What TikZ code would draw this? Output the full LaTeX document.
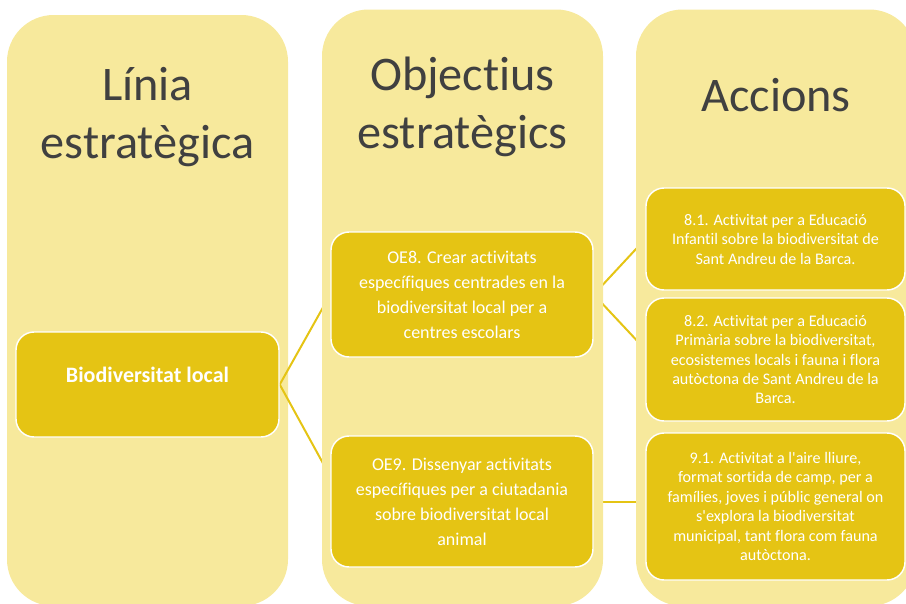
\documentclass[tikz,border=0pt]{standalone}
\usepackage{fontspec}
\setmainfont{Carlito}[Ligatures=NoCommon]

\definecolor{colfill}{HTML}{F7E99C}
\definecolor{boxfill}{HTML}{E5C414}
\definecolor{headgray}{HTML}{404040}

\pgfdeclarelayer{colone}
\pgfdeclarelayer{links}
\pgfdeclarelayer{cols}
\pgfsetlayers{colone,links,cols,main}

\tikzset{
  column/.style={fill=colfill, rounded corners=35pt},
  heading/.style={text=headgray, align=center, font=\fontsize{36.2}{43}\selectfont},
  levelbox/.style={draw=white, line width=1.1pt, fill=boxfill, rounded corners=13.5pt,
    text=white, align=center, inner sep=0pt},
  linebox/.style={levelbox, font=\fontsize{16.5}{20}\selectfont\bfseries, minimum width=197.25pt},
  objbox/.style={levelbox, font=\fontsize{13.5}{18.75}\selectfont, minimum width=196.5pt},
  actbox/.style={levelbox, font=\fontsize{12.1}{14.6}\selectfont, minimum width=194.25pt},
  link/.style={draw=boxfill, line width=1.5pt},
}

\begin{document}
\begin{tikzpicture}[x=0.75pt,y=-0.75pt]
\useasboundingbox (0,0) rectangle (906,603);

% columns
\begin{pgfonlayer}{colone}
\fill[column] (7,15) rectangle (288,606);
\end{pgfonlayer}
\begin{pgfonlayer}{cols}
\fill[column] (322,9.5) rectangle (603,606);
\fill[column] (636,9.5) rectangle (916,606);
\end{pgfonlayer}

% headings
\node[heading] (hlinia) at (147.5,117) {Línia\\estratègica};
\node[heading] (hobj) at (462.5,107) {Objectius\\estratègics};
\node[heading] (hacc) at (776,95) {Accions};

% level 1
\node[linebox, minimum height=78.75pt, text depth=14pt] (bio) at (147.5,384.5) {Biodiversitat local};

% level 2
\node[objbox, minimum height=93.75pt] (oe8) at (462,294.5)
  {OE8. Crear activitats\\específiques centrades en la\\biodiversitat local per a\\centres escolars};
\node[objbox, minimum height=98.25pt] (oe9) at (462,501.5)
  {OE9. Dissenyar activitats\\específiques per a ciutadania\\sobre biodiversitat local\\animal};

% level 3
\node[actbox, minimum height=76.5pt] (a81) at (775.5,239)
  {8.1. Activitat per a Educació\\Infantil sobre la biodiversitat de\\Sant Andreu de la Barca.};
\node[actbox, minimum height=92.25pt] (a82) at (775.5,359.5)
  {8.2. Activitat per a Educació\\Primària sobre la biodiversitat,\\ecosistemes locals i fauna i flora\\autòctona de Sant Andreu de la\\Barca.};
\node[actbox, minimum height=110.25pt] (a91) at (775.5,506.5)
  {9.1. Activitat a l\textquotesingle aire lliure,\\format sortida de camp, per a\\famílies, joves i públic general on\\s\textquotesingle explora la biodiversitat\\municipal, tant flora com fauna\\autòctona.};

% connectors
\begin{pgfonlayer}{links}
\draw[link] (bio.east) -- (oe8.west);
\draw[link] (bio.east) -- ([yshift=18.75pt]oe9.west);
\draw[link] (oe8.east) -- (a81.west);
\draw[link] (oe8.east) -- ([yshift=7.5pt]a82.west);
\draw[link] (oe9.east) -- (oe9.east -| a91.west);
\end{pgfonlayer}

\end{tikzpicture}
\end{document}
